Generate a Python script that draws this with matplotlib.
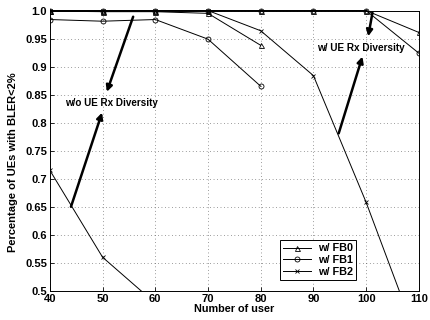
import matplotlib
matplotlib.use("Agg")
import matplotlib.pyplot as plt
from matplotlib.patches import Rectangle
from matplotlib.lines import Line2D

plt.rcParams['font.family'] = ['Liberation Sans', 'DejaVu Sans']

users = [40, 50, 60, 70, 80, 90, 100, 110]
x_wo_fb0 = [40, 50, 60, 70, 80]
fb0_wo = [0.999, 0.998, 0.998, 0.995, 0.938]
x_wo_fb1 = [40, 50, 60, 70, 80]
fb1_wo = [0.984, 0.981, 0.984, 0.949, 0.865]
x_wo_fb2 = [40, 50, 60]
fb2_wo = [0.715, 0.56, 0.478]
fb0_w = [1.0, 1.0, 1.0, 1.0, 1.0, 1.0, 1.0, 0.961]
fb1_w = [1.0, 1.0, 1.0, 1.0, 1.0, 1.0, 1.0, 0.924]
fb2_w = [1.0, 1.0, 1.0, 1.0, 0.964, 0.884, 0.658, 0.407]

labels = ['w/ FB0', 'w/ FB1', 'w/ FB2']
markers = ['^', 'o', 'x']
msizes = {'^': 3.6, 'o': 3.6, 'x': 2.8}

fig = plt.figure(figsize=(4.3, 3.2), dpi=100)
ax = fig.add_axes([0.116, 0.091, 0.858, 0.876])

clip = Rectangle((0, 0), 1, 1.06, transform=ax.transAxes, visible=False)
ax.add_patch(clip)

style = dict(color='black', lw=0.7, markerfacecolor='none', markeredgewidth=0.6)
series = [
    (x_wo_fb0, fb0_wo, '^'), (x_wo_fb1, fb1_wo, 'o'), (x_wo_fb2, fb2_wo, 'x'),
    (users, fb0_w, '^'), (users, fb1_w, 'o'), (users, fb2_w, 'x'),
]
for xs, ys, m in series:
    ln, = ax.plot(xs, ys, marker=m, markersize=msizes[m], **style)
    ln.set_clip_path(clip)

ax.set_xlim(40, 110)
ax.set_ylim(0.5, 1.0)
ax.set_xticks(range(40, 111, 10))
yt = [0.5, 0.55, 0.6, 0.65, 0.7, 0.75, 0.8, 0.85, 0.9, 0.95, 1.0]
ax.set_yticks(yt)
ax.set_yticklabels(['0.5', '0.55', '0.6', '0.65', '0.7', '0.75', '0.8',
                    '0.85', '0.9', '0.95', '1.0'])
ax.tick_params(direction='in', length=3, width=0.6, labelsize=8, pad=2)
for lab in ax.get_xticklabels() + ax.get_yticklabels():
    lab.set_fontweight('bold')
ax.grid(True, color='0.25', lw=0.5, linestyle=(0, (1, 4)))
for s in ax.spines.values():
    s.set_linewidth(0.7)

ax.set_xlabel('Number of user', fontsize=7.8, fontweight='bold', labelpad=0)
ax.set_ylabel('Percentage of UEs with BLER<2%', fontsize=8, fontweight='bold')
ax.yaxis.set_label_coords(-0.087, 0.46)

arrow = dict(arrowstyle='-|>', lw=1.8, color='black', mutation_scale=9,
             shrinkA=0, shrinkB=0)
ax.annotate('', xy=(50.8, 0.855), xytext=(55.8, 0.989), arrowprops=arrow)
ax.annotate('', xy=(49.9, 0.818), xytext=(44.0, 0.65), arrowprops=arrow)
ax.annotate('', xy=(100.4, 0.954), xytext=(101.2, 0.996), arrowprops=arrow)
ax.annotate('', xy=(99.3, 0.918), xytext=(94.8, 0.781), arrowprops=arrow)
ax.text(51.7, 0.836, 'w/o UE Rx Diversity', fontsize=7.1, fontweight='bold',
        ha='center', va='center')
ax.text(99.0, 0.934, 'w/ UE Rx Diversity', fontsize=7.2, fontweight='bold',
        ha='center', va='center')

handles = [Line2D([], [], marker=m, markersize=msizes[m], **style) for m in markers]
leg = ax.legend(handles, labels, loc='lower left', bbox_to_anchor=(0.623, 0.039),
                prop={'weight': 'bold', 'size': 7.8},
                fancybox=False, framealpha=1, edgecolor='black',
                handlelength=2.6, handletextpad=0.6, borderpad=0.3,
                labelspacing=0.15, borderaxespad=0)
leg.get_frame().set_linewidth(0.7)

fig.savefig('out.png', dpi=100)
